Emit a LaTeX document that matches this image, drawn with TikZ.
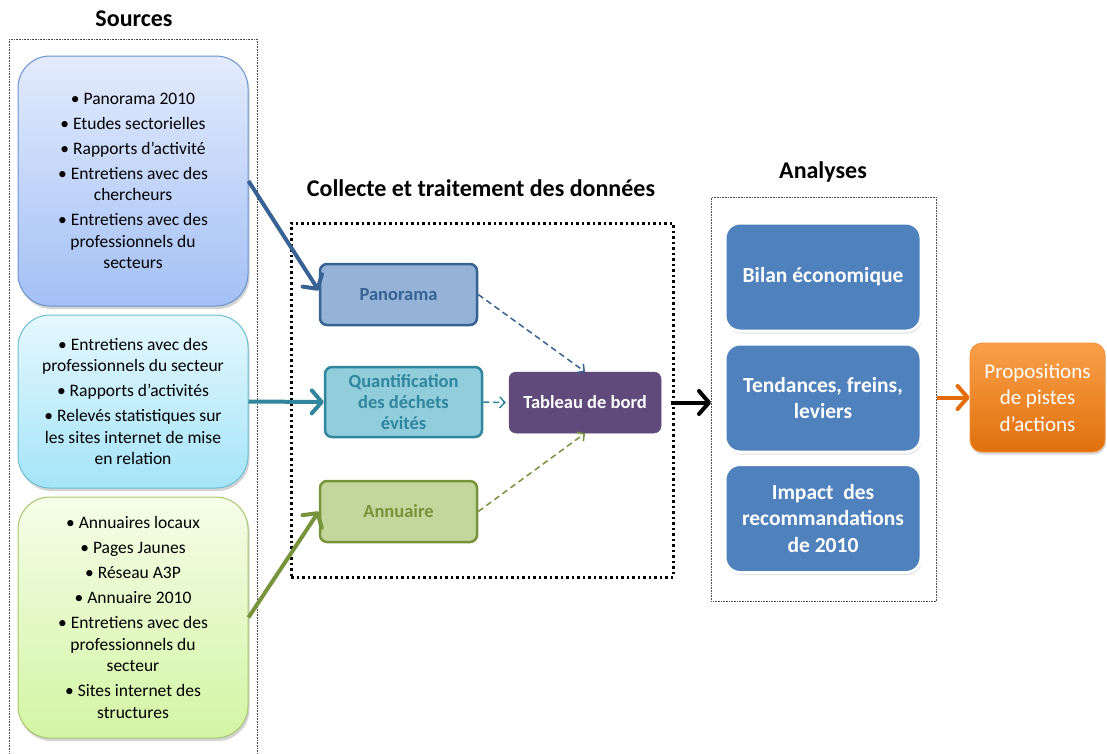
\documentclass[tikz,border=0pt]{standalone}
\usepackage{fontspec}
\setmainfont{Carlito}
\usetikzlibrary{arrows.meta,shadows}
\definecolor{panoline}{HTML}{386194}
\definecolor{panofill}{HTML}{95B3D7}
\definecolor{quantline}{HTML}{31859C}
\definecolor{quantfill}{HTML}{92CDDC}
\definecolor{annoline}{HTML}{77933C}
\definecolor{annofill}{HTML}{C3D69B}
\definecolor{tabfill}{HTML}{604A7B}
\definecolor{anafill}{HTML}{4F81BD}
\definecolor{propline}{HTML}{E46C0A}
\definecolor{srcaline}{HTML}{6C93CF}
\definecolor{srcatop}{HTML}{E3EBFD}
\definecolor{srcabot}{HTML}{A3C0F5}
\definecolor{srcbline}{HTML}{6DBDD3}
\definecolor{srcbtop}{HTML}{E5F8FE}
\definecolor{srcbbot}{HTML}{A5E4F8}
\definecolor{srccline}{HTML}{A6C56E}
\definecolor{srcctop}{HTML}{F5FDE8}
\definecolor{srccbot}{HTML}{D3F5A4}
\definecolor{proptop}{HTML}{FAA04A}
\definecolor{propbot}{HTML}{E0700C}
\definecolor{propedge}{HTML}{F0903A}

\begin{document}
\begin{tikzpicture}[x=1pt,y=-1pt,
  title/.style={font=\fontsize{24}{28}\selectfont\bfseries},
  frame/.style={draw=black!70, densely dotted, line width=0.6pt, anchor=north west},
  src/.style={rounded corners=32pt, minimum width=230pt, inner sep=2pt, align=center, line width=1pt,
    font=\fontsize{17.5}{21.5}\selectfont,
    drop shadow={shadow xshift=1.5pt, shadow yshift=-3pt, opacity=0.35}},
  collect/.style={rounded corners=7pt, minimum width=157pt, minimum height=61pt, inner sep=2pt, align=center,
    line width=2.5pt, font=\fontsize{18.5}{21}\selectfont\bfseries},
  ana/.style={rounded corners=15pt, fill=anafill, draw=white, line width=3pt, minimum width=196pt,
    minimum height=108pt, align=center, text=white, font=\fontsize{21.5}{26.5}\selectfont\bfseries,
    drop shadow={shadow xshift=1pt, shadow yshift=-2.5pt, opacity=0.25}},
  thick arrow/.style={line width=4pt, -{Straight Barb[round, length=10pt, width=23pt]}},
  dash arrow/.style={line width=1.5pt, dash pattern=on 6pt off 4pt, -{Straight Barb[length=5pt, width=11pt]}}]
\useasboundingbox (0,0) rectangle (1107,753);

\node[title] (tsrc) at (134,19) {Sources};
\node[title] (tcol) at (481,188) {Collecte et traitement des données};
\node[title] (tana) at (823,172) {Analyses};

\node[frame, minimum width=248pt, minimum height=730pt] (sources) at (9,39) {};
\node[frame, minimum width=225pt, minimum height=404pt] (analyses) at (711,197) {};
\node[draw, anchor=north west, line width=2.5pt, dash pattern=on 2.5pt off 3pt,
  minimum width=382pt, minimum height=354pt] (collecte) at (290,222) {};

\node[src, minimum height=250pt, draw=srcaline, top color=srcatop, bottom color=srcabot] (src1) at (133,181)
  {• Panorama 2010\\[3.5pt] • Etudes sectorielles\\[3.5pt] • Rapports d’activité\\[3.5pt]
   • Entretiens avec des\\ chercheurs\\[3.5pt] • Entretiens avec des\\ professionnels du\\ secteurs};
\node[src, minimum height=173pt, draw=srcbline, top color=srcbtop, bottom color=srcbbot] (src2) at (133,401.5)
  {• Entretiens avec des\\ professionnels du secteur\\[3.5pt] • Rapports d’activités\\[3.5pt]
   • Relevés statistiques sur\\ les sites internet de mise\\ en relation};
\node[src, minimum height=241pt, draw=srccline, top color=srcctop, bottom color=srccbot] (src3) at (133,617.5)
  {• Annuaires locaux\\[3.5pt] • Pages Jaunes\\[3.5pt] • Réseau A3P\\[3.5pt] • Annuaire 2010\\[3.5pt]
   • Entretiens avec des\\ professionnels du\\ secteur\\[3.5pt] • Sites internet des\\ structures};

\node[collect, draw=panoline, fill=panofill, text=panoline] (pano) at (398.5,294.5) {Panorama};
\node[collect, draw=quantline, fill=quantfill, text=quantline, minimum height=70pt] (quant) at (403.5,402)
  {Quantification\\ des déchets\\ évités};
\node[collect, draw=annoline, fill=annofill, text=annoline] (anno) at (398.5,511.5) {Annuaire};
\node[collect, draw=tabfill, line width=0.5pt, fill=tabfill, text=white, minimum width=152pt] (tab) at (585,402.5)
  {Tableau de bord};

\node[ana] (bilan) at (823,277) {Bilan économique};
\node[ana] (tend) at (823,398) {Tendances, freins,\\ leviers};
\node[ana] (impact) at (823,518.5) {Impact\ \ des\\ recommandations\\ de 2010};

\node[rounded corners=12pt, minimum width=135pt, minimum height=109pt, align=center, text=white,
  top color=proptop, bottom color=propbot, draw=propedge, line width=0.8pt,
  font=\fontsize{21}{26.5}\selectfont,
  drop shadow={shadow xshift=1pt, shadow yshift=-2.5pt, opacity=0.3}] (prop) at (1037.5,397.5)
  {Propositions\\ de pistes\\ d’actions};

\draw[thick arrow, panoline] (src1.east) -- ([yshift=4pt]pano.west);
\draw[thick arrow, quantline] (src2.east) -- (quant.west);
\draw[thick arrow, annoline] (src3.east) -- (anno.west);
\draw[dash arrow, panoline] (pano.east) -- (tab.north);
\draw[dash arrow, quantline] (quant.east) -- ([xshift=-3pt]tab.west);
\draw[dash arrow, annoline] (anno.east) -- (tab.south);
\draw[thick arrow, black] ([xshift=-4pt]collecte.east |- tab) -- (analyses.west |- tab);
\draw[thick arrow, propline] (analyses.east |- prop) -- (prop.west);
\end{tikzpicture}
\end{document}
